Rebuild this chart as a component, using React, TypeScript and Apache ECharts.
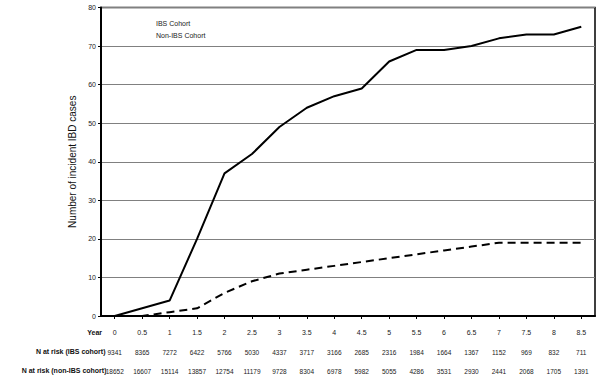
import React, { useEffect, useRef } from "react";
import * as echarts from "echarts";

const years = ["0", "0.5", "1", "1.5", "2", "2.5", "3", "3.5", "4", "4.5", "5", "5.5", "6", "6.5", "7", "7.5", "8", "8.5"];
const ibsCases = [0, 2, 4, 20, 37, 42, 49, 54, 57, 59, 66, 69, 69, 70, 72, 73, 73, 75];
const nonIbsCases = [0, 0, 1, 2, 6, 9, 11, 12, 13, 14, 15, 16, 17, 18, 19, 19, 19, 19];
const atRiskIbs = [9341, 8365, 7272, 6422, 5766, 5030, 4337, 3717, 3166, 2685, 2316, 1984, 1664, 1367, 1152, 969, 832, 711];
const atRiskNonIbs = [18652, 16607, 15114, 13857, 12754, 11179, 9728, 8304, 6978, 5982, 5055, 4286, 3531, 2930, 2441, 2068, 1705, 1391];
const rowTitles = ["Year", "N at risk (IBS cohort)", "N at risk (non-IBS cohort)"];

const FONT = "'Liberation Sans', Arial, sans-serif";

export default function App() {
  const ref = useRef<HTMLDivElement>(null);
  useEffect(() => {
    if (!ref.current) return;
    const chart = echarts.init(ref.current, null, { renderer: "svg", width: 600, height: 384 });
    const rowY = [333, 352, 371];
    const rowRight = [102, 105.5, 106.5];
    const G = { left: 101, right: 5, top: 7.5, bottom: 68 };
    const rowAxis = (gridIndex: number, data: number[]) => ({
      type: "category",
      gridIndex,
      data: data.map(String),
      position: "bottom",
      boundaryGap: true,
      axisLine: { show: false },
      axisTick: { show: false },
      axisLabel: { margin: 7.5, fontSize: 6.5, color: "#222", fontFamily: FONT, interval: 0 },
      splitLine: { show: false },
    });
    const hiddenY = (gridIndex: number) => ({ type: "value", gridIndex, show: false });
    const option: any = {
      animation: false,
      grid: [
        {
          left: G.left,
          right: G.right,
          top: G.top,
          bottom: G.bottom,
          show: true,
          backgroundColor: "#fff",
          borderColor: "#000",
          borderWidth: 1.5,
        },
        { left: G.left, right: G.right, top: 340, height: 1 },
        { left: G.left, right: G.right, top: 359, height: 1 },
      ],
      legend: {
        orient: "vertical",
        left: 121,
        top: 14,
        itemWidth: 25,
        itemHeight: 9,
        itemGap: 3.5,
        textStyle: { fontSize: 7, color: "#222", fontFamily: FONT },
        data: [
          { name: "IBS Cohort", icon: "none" },
          { name: "Non-IBS Cohort", icon: "none" },
        ],
      },
      xAxis: [
        {
          type: "category",
          gridIndex: 0,
          data: years,
          boundaryGap: true,
          axisLine: { show: true, lineStyle: { color: "#000", width: 2 } },
          axisTick: { show: true, alignWithLabel: true, length: 3, lineStyle: { color: "#000", width: 1 } },
          axisLabel: { margin: 13, fontSize: 7, color: "#222", fontFamily: FONT, interval: 0 },
          splitLine: { show: false },
        },
        rowAxis(1, atRiskIbs),
        rowAxis(2, atRiskNonIbs),
      ],
      yAxis: [
        {
          type: "value",
          gridIndex: 0,
          min: 0,
          max: 80,
          interval: 10,
          name: "Number of incident IBD cases",
          nameLocation: "middle",
          nameGap: 24,
          nameRotate: 90,
          nameTextStyle: { fontSize: 10, color: "#111", fontFamily: FONT },
          axisLine: { show: true, lineStyle: { color: "#000", width: 2 } },
          axisTick: { show: true, length: 3, lineStyle: { color: "#000", width: 1 } },
          axisLabel: { margin: 5, fontSize: 7, color: "#222", fontFamily: FONT },
          splitLine: { show: true, lineStyle: { color: "#808080", width: 1.2 } },
        },
        hiddenY(1),
        hiddenY(2),
      ],
      series: [
        {
          name: "IBS Cohort",
          type: "line",
          data: ibsCases,
          symbol: "none",
          lineStyle: { color: "#000", width: 2 },
          itemStyle: { color: "#000" },
          z: 5,
        },
        {
          name: "Non-IBS Cohort",
          type: "line",
          data: nonIbsCases,
          symbol: "none",
          lineStyle: { color: "#000", width: 2, type: [8, 5] },
          itemStyle: { color: "#000" },
          z: 5,
        },
      ],
      graphic: rowTitles.map((t, i) => ({
        type: "text",
        right: 600 - rowRight[i],
        top: rowY[i] - 4,
        style: {
          text: t,
          fontSize: 7,
          fontWeight: "bold",
          fill: "#111",
          fontFamily: FONT,
        },
      })),
    };
    chart.setOption(option);
    return () => chart.dispose();
  }, []);
  return (
    <div
      ref={ref}
      style={{ position: "fixed", left: 0, top: 0, width: 600, height: 384, background: "#fff" }}
    />
  );
}
